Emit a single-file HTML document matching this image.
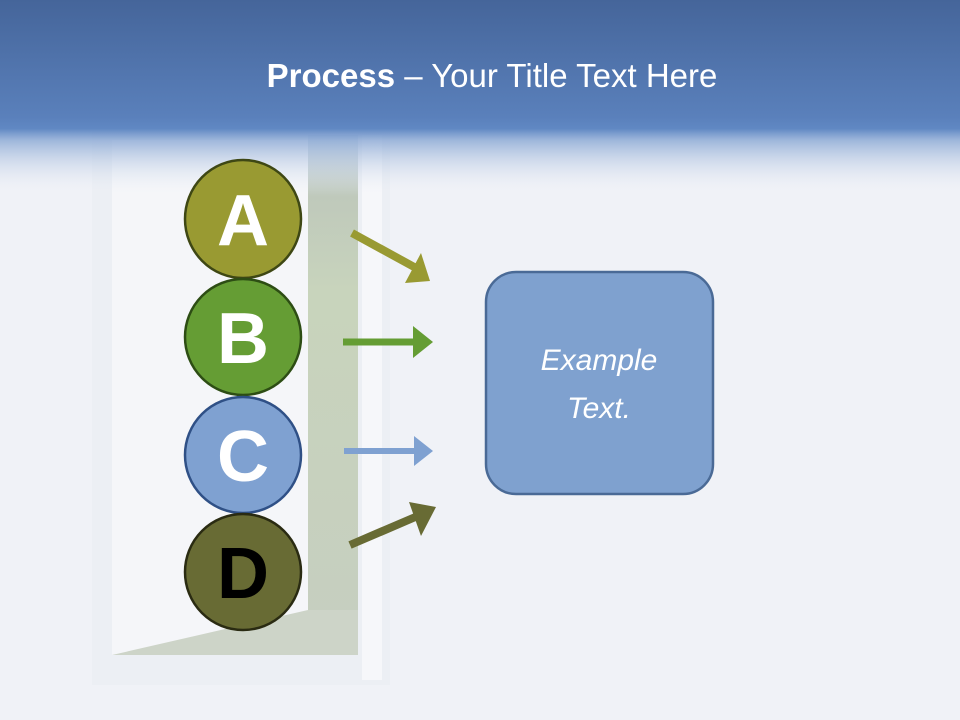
<!DOCTYPE html>
<html><head><style>
body{margin:0;width:960px;height:720px;overflow:hidden;background:#f0f2f7;font-family:"Liberation Sans",sans-serif}
</style></head><body>
<svg width="960" height="720" xmlns="http://www.w3.org/2000/svg" style="position:absolute;left:0;top:0">
<defs>
<linearGradient id="hd" x1="0" y1="0" x2="0" y2="1">
<stop offset="0" stop-color="#45659a" stop-opacity="1"/><stop offset="0.6" stop-color="#5a80bb" stop-opacity="1"/><stop offset="0.66" stop-color="#6088c3" stop-opacity="1"/><stop offset="0.72" stop-color="#8aa8d4" stop-opacity="0.8"/><stop offset="1" stop-color="#f0f2f7" stop-opacity="0"/>
</linearGradient>
<linearGradient id="ls" x1="0" y1="0" x2="0" y2="1">
<stop offset="0" stop-color="#d2dcea"/><stop offset="0.12" stop-color="#bfc9bb"/><stop offset="0.3" stop-color="#c8d4bc"/><stop offset="1" stop-color="#c6cec0"/>
</linearGradient>
</defs>
<rect width="960" height="720" fill="#f0f2f7"/>
<rect x="92" y="130" width="298" height="555" fill="#eceff4"/>
<rect x="112" y="140" width="200" height="515" fill="#f5f6f9"/>
<rect x="308" y="135" width="50" height="520" fill="url(#ls)"/>
<polygon points="112,655 308,610 358,610 358,655" fill="#cdd4c8"/>
<rect x="362" y="135" width="20" height="545" fill="#f6f7fa"/>
<rect width="960" height="195" fill="url(#hd)"/>
<text x="492" y="87" text-anchor="middle" font-family="Liberation Sans, sans-serif" font-size="33" fill="#fff"><tspan font-weight="bold">Process</tspan> – Your Title Text Here</text>

<g stroke-width="2.5">
<ellipse cx="243" cy="219" rx="58" ry="59" fill="#999a32" stroke="#3e4714"/>
<ellipse cx="243" cy="337" rx="58" ry="58" fill="#659d34" stroke="#2d4d14"/>
<ellipse cx="243" cy="455" rx="58" ry="58" fill="#7fa1d1" stroke="#2f5086"/>
<ellipse cx="243" cy="572" rx="58" ry="58" fill="#686b34" stroke="#2a2b12"/>
</g>
<g font-family="Liberation Sans, sans-serif" font-weight="bold" font-size="72" text-anchor="middle">
<text x="243" y="245" fill="#fff">A</text>
<text x="243" y="363" fill="#fff">B</text>
<text x="243" y="481" fill="#fff">C</text>
<text x="243" y="598" fill="#000">D</text>
</g>

<line x1="352" y1="233" x2="416" y2="268" stroke="#999a32" stroke-width="8"/>
<polygon points="430,281 405,283 421,253" fill="#999a32"/>
<line x1="343" y1="342" x2="416" y2="342" stroke="#659d34" stroke-width="7"/>
<polygon points="433,342 413,326 413,358" fill="#659d34"/>
<line x1="344" y1="451" x2="416" y2="451" stroke="#7fa1d1" stroke-width="6"/>
<polygon points="433,451 414,436 414,466" fill="#7fa1d1"/>
<line x1="350" y1="545" x2="420" y2="515" stroke="#686b34" stroke-width="8"/>
<polygon points="436,507 409,502 421,536" fill="#686b34"/>

<rect x="486" y="272" width="227" height="222" rx="30" fill="#7fa1cf" stroke="#4a6a96" stroke-width="2.5"/>
<text x="599" y="370" text-anchor="middle" font-family="Liberation Sans, sans-serif" font-style="italic" font-size="30" fill="#fff">Example</text>
<text x="599" y="418" text-anchor="middle" font-family="Liberation Sans, sans-serif" font-style="italic" font-size="30" fill="#fff">Text.</text>
</svg>
</body></html>
